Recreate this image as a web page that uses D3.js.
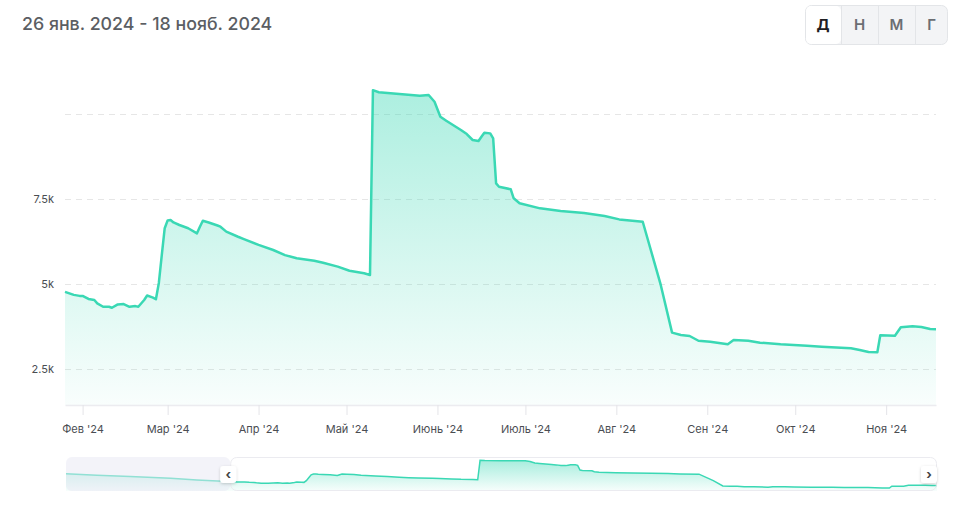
<!DOCTYPE html>
<html>
<head>
<meta charset="utf-8">
<script src="https://cdn.jsdelivr.net/npm/d3@7"></script>
<style>
  html, body { margin: 0; padding: 0; background: #fff; }
  svg { display: block; font-family: Inter, "Noto Sans", sans-serif; }
</style>
</head>
<body>
<svg id="chart" width="974" height="525"></svg>
<script>
const titleText = "26 янв. 2024 - 18 нояб. 2024";
const rangeButtons = ["Д", "Н", "М", "Г"];

const dates = [
  "2023-11-18","2023-12-01","2023-12-15","2024-01-01","2024-01-12","2024-01-25",
  "2024-01-26","2024-01-29","2024-01-31","2024-02-01","2024-02-03","2024-02-05","2024-02-06","2024-02-08",
  "2024-02-10","2024-02-11","2024-02-13","2024-02-15","2024-02-17","2024-02-19","2024-02-20","2024-02-22",
  "2024-02-23","2024-02-25","2024-02-26","2024-02-27","2024-02-28","2024-02-29","2024-03-01","2024-03-02",
  "2024-03-03","2024-03-05","2024-03-08","2024-03-11","2024-03-12","2024-03-13","2024-03-15","2024-03-18",
  "2024-03-19","2024-03-21","2024-03-25","2024-03-27","2024-04-01","2024-04-06","2024-04-10","2024-04-14",
  "2024-04-20","2024-04-23","2024-04-28","2024-05-02","2024-05-07","2024-05-09","2024-05-10","2024-05-12",
  "2024-05-19","2024-05-26","2024-05-29","2024-05-31","2024-06-02","2024-06-04","2024-06-09","2024-06-11",
  "2024-06-13","2024-06-15","2024-06-16","2024-06-17","2024-06-19","2024-06-20","2024-06-21","2024-06-22",
  "2024-06-26","2024-06-27","2024-06-29","2024-07-06","2024-07-13","2024-07-21","2024-07-28","2024-08-02",
  "2024-08-10","2024-08-16","2024-08-20","2024-08-23","2024-08-26","2024-08-29","2024-09-02","2024-09-08",
  "2024-09-10","2024-09-15","2024-09-19","2024-09-26","2024-10-05","2024-10-10","2024-10-20","2024-10-23",
  "2024-10-26","2024-10-29","2024-10-30","2024-11-04","2024-11-06","2024-11-10","2024-11-13","2024-11-16",
  "2024-11-18"
];
const values = [
  6940, 6560, 6180, 5700, 5200, 4790,
  4770, 4680, 4650, 4650, 4560, 4530, 4430, 4330,
  4330, 4300, 4400, 4410, 4330, 4350, 4330, 4530,
  4660, 4600, 4550, 5030, 5850, 6640, 6870, 6880,
  6810, 6735, 6640, 6490, 6685, 6860, 6810, 6720,
  6685, 6540, 6390, 6320, 6150, 6000, 5850, 5755,
  5685, 5625, 5510, 5390, 5315, 5265, 10700, 10640,
  10590, 10540, 10560, 10360, 9920, 9800, 9530, 9410,
  9235, 9205, 9330, 9450, 9430, 9285, 7960, 7860,
  7785, 7520, 7375, 7225, 7150, 7090, 7000, 6900,
  6830, 5020, 3570, 3500, 3470, 3330, 3300, 3225,
  3350, 3330, 3275, 3225, 3185, 3155, 3110, 3060,
  3000, 2990, 3490, 3480, 3725, 3755, 3735, 3675,
  3670
];
const viewStart = "2024-01-26";
const viewEnd = "2024-11-18";
const navStart = "2023-11-18";

const xTickDates = ["2024-02-01","2024-03-01","2024-04-01","2024-05-01","2024-06-01","2024-07-01","2024-08-01","2024-09-01","2024-10-01","2024-11-01"];
const xTickLabels = ["Фев '24","Мар '24","Апр '24","Май '24","Июнь '24","Июль '24","Авг '24","Сен '24","Окт '24","Ноя '24"];
const yTickValues = [2500, 5000, 7500, 10000];
const yTickLabels = ["2.5k", "5k", "7.5k", ""];

const parse = d3.timeParse("%Y-%m-%d");
const allData = dates.map((d, i) => ({ date: parse(d), value: values[i] }));
const vStart = parse(viewStart), vEnd = parse(viewEnd);
const mainData = allData.filter(d => d.date >= vStart && d.date <= vEnd);

const svg = d3.select("#chart");
const lineColor = "#3ad8b4";

const plot = { left: 65, right: 936, top: 60, bottom: 405 };

const x = d3.scaleTime().domain([vStart, vEnd]).range([plot.left, plot.right]);
const y = d3.scaleLinear().domain([1441, 11588]).range([plot.bottom, plot.top]);

const defs = svg.append("defs");
const grad = defs.append("linearGradient")
  .attr("id", "areaGrad").attr("gradientUnits", "userSpaceOnUse")
  .attr("x1", 0).attr("x2", 0).attr("y1", 90).attr("y2", plot.bottom);
grad.append("stop").attr("offset", "0%").attr("stop-color", lineColor).attr("stop-opacity", 0.42);
grad.append("stop").attr("offset", "100%").attr("stop-color", lineColor).attr("stop-opacity", 0.03);

const navGrad = defs.append("linearGradient")
  .attr("id", "navGrad").attr("gradientUnits", "userSpaceOnUse")
  .attr("x1", 0).attr("x2", 0).attr("y1", 460).attr("y2", 491);
navGrad.append("stop").attr("offset", "0%").attr("stop-color", lineColor).attr("stop-opacity", 0.45);
navGrad.append("stop").attr("offset", "100%").attr("stop-color", lineColor).attr("stop-opacity", 0.04);

const shadow = defs.append("filter").attr("id", "shadow").attr("x", "-50%").attr("y", "-50%").attr("width", "200%").attr("height", "200%");
shadow.append("feDropShadow").attr("dx", 0).attr("dy", 1).attr("stdDeviation", 1.5).attr("flood-color", "#000").attr("flood-opacity", 0.18);

svg.append("text").attr("x", 22).attr("y", 30)
  .attr("font-size", 17.8).attr("font-weight", 500).attr("fill", "#5b5e63")
  .text(titleText);

const btnX = [805, 841, 878, 915, 948];
const btnG = svg.append("g");
btnG.append("rect").attr("x", 805.5).attr("y", 5.5).attr("width", 142).attr("height", 39)
  .attr("rx", 6).attr("fill", "#f3f4f6").attr("stroke", "#e3e5e8");
btnG.append("rect").attr("x", 806).attr("y", 6).attr("width", 35).attr("height", 38)
  .attr("rx", 5).attr("fill", "#ffffff");
for (let i = 1; i < 4; i++) {
  btnG.append("line").attr("x1", btnX[i] + 0.5).attr("x2", btnX[i] + 0.5).attr("y1", 6).attr("y2", 44)
    .attr("stroke", "#e3e5e8");
}
rangeButtons.forEach((b, i) => {
  btnG.append("text").attr("x", (btnX[i] + btnX[i + 1]) / 2).attr("y", 30)
    .attr("text-anchor", "middle").attr("font-size", 15)
    .attr("font-weight", i === 0 ? 700 : 600)
    .attr("fill", i === 0 ? "#1f2023" : "#6b6e73")
    .text(b);
});

const grid = svg.append("g");
grid.selectAll("line").data(yTickValues).join("line")
  .attr("x1", plot.left).attr("x2", plot.right)
  .attr("y1", d => Math.round(y(d)) + 0.5).attr("y2", d => Math.round(y(d)) + 0.5)
  .attr("stroke", "#e6e6e6").attr("stroke-width", 1).attr("stroke-dasharray", "6,5");

svg.append("g").selectAll("text").data(yTickValues).join("text")
  .attr("x", 54).attr("y", d => y(d) + 4)
  .attr("text-anchor", "end").attr("font-size", 11).attr("fill", "#4a4d52")
  .text((d, i) => yTickLabels[i]);

const area = d3.area().x(d => x(d.date)).y0(plot.bottom).y1(d => y(d.value)).curve(d3.curveLinear);
const line = d3.line().x(d => x(d.date)).y(d => y(d.value)).curve(d3.curveLinear);
svg.append("path").datum(mainData).attr("d", area).attr("fill", "url(#areaGrad)");
svg.append("path").datum(mainData).attr("d", line).attr("fill", "none")
  .attr("stroke", lineColor).attr("stroke-width", 2.5).attr("stroke-linejoin", "round");

const xAxis = d3.axisBottom(x)
  .tickValues(xTickDates.map(parse))
  .tickSizeInner(10).tickSizeOuter(0).tickPadding(10)
  .tickFormat((d, i) => xTickLabels[i]);
const gx = svg.append("g").attr("transform", `translate(0,${plot.bottom})`).call(xAxis);
gx.select(".domain").attr("stroke", "#ececf0").attr("stroke-width", 1.5);
gx.selectAll(".tick line").attr("stroke", "#e4e4e8");
gx.selectAll(".tick text").attr("font-size", 11).attr("fill", "#4a4d52")
  .attr("font-family", "Inter, 'Noto Sans', sans-serif");

const nav = { left: 66, right: 937, top: 457, bottom: 491 };
const nx = d3.scaleTime().domain([parse(navStart), vEnd]).range([nav.left, nav.right]);
const ny = d3.scaleLinear().domain([2150, 11600]).range([nav.bottom, nav.top]);
const selL = nx(vStart), selR = nx(vEnd);

const navG = svg.append("g");
navG.append("rect").attr("x", nav.left).attr("y", nav.top).attr("width", nav.right - nav.left)
  .attr("height", nav.bottom - nav.top).attr("rx", 6).attr("fill", "#ffffff");
const navArea = d3.area().x(d => nx(d.date)).y0(nav.bottom).y1(d => ny(d.value));
const navLine = d3.line().x(d => nx(d.date)).y(d => ny(d.value));
navG.append("path").datum(allData).attr("d", navArea).attr("fill", "url(#navGrad)");
navG.append("path").datum(allData).attr("d", navLine).attr("fill", "none")
  .attr("stroke", lineColor).attr("stroke-width", 1.5);
navG.append("rect").attr("x", nav.left).attr("y", nav.top).attr("width", selL - nav.left)
  .attr("height", nav.bottom - nav.top).attr("rx", 6)
  .attr("fill", "#e8e8f4").attr("fill-opacity", 0.5);
navG.append("rect").attr("x", selL + 0.5).attr("y", nav.top + 0.5).attr("width", selR - selL - 1)
  .attr("height", nav.bottom - nav.top - 1).attr("rx", 6)
  .attr("fill", "none").attr("stroke", "#ebebf0");

[[selL - 2, "‹"], [selR - 8, "›"]].forEach(([cx, ch]) => {
  navG.append("rect").attr("x", cx - 8).attr("y", 466).attr("width", 16).attr("height", 17)
    .attr("rx", 3).attr("fill", "#ffffff").attr("filter", "url(#shadow)");
  navG.append("text").attr("x", cx).attr("y", 479).attr("text-anchor", "middle")
    .attr("font-size", 13).attr("font-weight", 700).attr("fill", "#444").text(ch);
});
</script>
</body>
</html>
